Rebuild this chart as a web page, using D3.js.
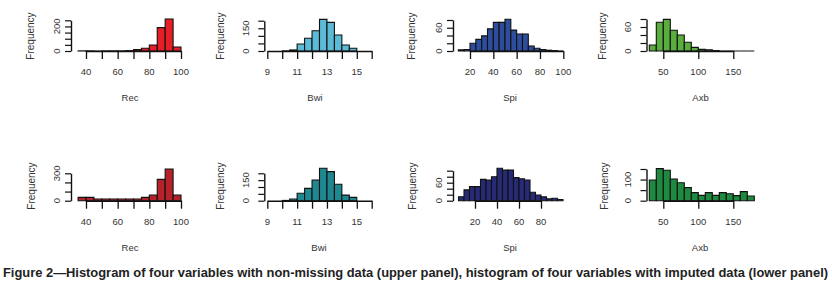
<!DOCTYPE html>
<html><head><meta charset="utf-8">
<script src="https://cdn.jsdelivr.net/npm/d3@7"></script>
<style>
html,body{margin:0;padding:0;background:#fff;}
svg{display:block;}
text{font-family:"Liberation Sans",Arial,sans-serif;fill:#333;}
</style></head>
<body>
<svg id="chart" width="832" height="295"></svg>
<script>
// ---------- data ----------
const recBreaks = [35,40,45,50,55,60,65,70,75,80,85,90,95,100];
const recTopCounts = [1,1,0,1,1,1,3,11,22,49,190,261,33];
const recBottomCounts = [36,36,18,18,18,18,18,18,36,62,234,347,62];
const recXTicks = [40,50,60,70,80,90,100];
const recXLabels = [40,60,80,100];
const recTopYTicks = [0,50,100,150,200,250];
const recTopYLabels = [0,200];
const recBottomYTicks = [0,100,200,300];
const recBottomYLabels = [0,300];

const bwiBreaks = [10,10.5,11,11.5,12,12.5,13,13.5,14,14.5,15];
const bwiTopCounts = [1,7,46,84,134,209,189,106,40,18];
const bwiBottomCounts = [2,12,54,90,151,237,212,120,41,24];
const bwiXTicks = [9,10,11,12,13,14,15,16];
const bwiXLabels = [9,11,13,15];
const bwiYTicks = [0,50,100,150,200];
const bwiYLabels = [0,150];

const spiTopBreaks = [10,15,20,25,30,35,40,45,50,55,60,65,70,75,80,85,90,95,100];
const spiTopCounts = [3,4,20,30,39,57,74,74,82,54,44,44,13,7,4,2,1,0];
const spiBottomBreaks = [5,10,15,20,25,30,35,40,45,50,55,60,65,70,75,80,85,90,95,100];
const spiBottomCounts = [13,36,47,47,71,69,80,108,102,102,77,73,69,28,19,13,6,8,4];
const spiTopXTicks = [20,40,60,80,100];
const spiTopXLabels = [20,40,60,80,100];
const spiBottomXTicks = [20,40,60,80];
const spiBottomXLabels = [20,40,60,80];
const spiTopYTicks = [0,20,40,60,80];
const spiBottomYTicks = [0,20,40,60,80,100];
const spiYLabels = [0,60];

const axbBreaks = [30,40,50,60,70,80,90,100,110,120,130,140,150,160,170,180];
const axbTopCounts = [15,72,79,52,40,22,9,4,3,1,0,0,0,0,0];
const axbBottomCounts = [98,152,144,103,85,62,38,25,38,25,38,33,24,43,22];
const axbXTicks = [50,100,150];
const axbXLabels = [50,100,150];
const axbTopYTicks = [0,20,40,60,80];
const axbTopYLabels = [0,60];
const axbBottomYTicks = [0,50,100,150];
const axbBottomYLabels = [0,100];

const caption = "Figure 2\u2014Histogram of four variables with non-missing data (upper panel), histogram of four variables with imputed data (lower panel)";

// ---------- layout ----------
const rows = [
  {base:51, xLabY:74.5, titleY:101, freqY:36},
  {base:200.7, xLabY:224.5, titleY:250.5, freqY:186}
];
const panels = [
  {row:0, title:"Rec", breaks:recBreaks, counts:recTopCounts, color:"#E61F27",
   xDom:[40,100], xRange:[86,181], yDom:[0,250], yTop:20.3,
   xTicks:recXTicks, xLabels:recXLabels, yTicks:recTopYTicks, yLabels:recTopYLabels,
   axisX:71, ylabX:57, freqX:30, titleX:130},
  {row:1, title:"Rec", breaks:recBreaks, counts:recBottomCounts, color:"#B5222A",
   xDom:[40,100], xRange:[86,181], yDom:[0,300], yTop:173.3,
   xTicks:recXTicks, xLabels:recXLabels, yTicks:recBottomYTicks, yLabels:recBottomYLabels,
   axisX:71, ylabX:57, freqX:31, titleX:130},
  {row:0, title:"Bwi", breaks:bwiBreaks, counts:bwiTopCounts, color:"#5BBAD5",
   xDom:[9,16], xRange:[267.3,371.7], yDom:[0,200], yTop:20.7,
   xTicks:bwiXTicks, xLabels:bwiXLabels, yTicks:bwiYTicks, yLabels:bwiYLabels,
   axisX:264.3, ylabX:245.5, freqX:220, titleX:315},
  {row:1, title:"Bwi", breaks:bwiBreaks, counts:bwiBottomCounts, color:"#1F8790",
   xDom:[9,16], xRange:[267.3,371.7], yDom:[0,200], yTop:173.3,
   xTicks:bwiXTicks, xLabels:bwiXLabels, yTicks:bwiYTicks, yLabels:bwiYLabels,
   axisX:264.3, ylabX:245.5, freqX:220, titleX:319},
  {row:0, title:"Spi", breaks:spiTopBreaks, counts:spiTopCounts, color:"#2E4D9C",
   xDom:[20,100], xRange:[470,563.3], yDom:[0,80], yTop:20,
   xTicks:spiTopXTicks, xLabels:spiTopXLabels, yTicks:spiTopYTicks, yLabels:spiYLabels,
   axisX:453, ylabX:438.3, freqX:411.5, titleX:510},
  {row:1, title:"Spi", breaks:spiBottomBreaks, counts:spiBottomCounts, color:"#272B76",
   xDom:[20,80], xRange:[475,541], yDom:[0,100], yTop:170.7,
   xTicks:spiBottomXTicks, xLabels:spiBottomXLabels, yTicks:spiBottomYTicks, yLabels:spiYLabels,
   axisX:453, ylabX:438.3, freqX:412, titleX:510},
  {row:0, title:"Axb", breaks:axbBreaks, counts:axbTopCounts, color:"#5AAE3D",
   xDom:[50,150], xRange:[663.3,733.3], yDom:[0,80], yTop:19,
   xTicks:axbXTicks, xLabels:axbXLabels, yTicks:axbTopYTicks, yLabels:axbTopYLabels,
   axisX:646.5, ylabX:627.5, freqX:602, titleX:700.5},
  {row:1, title:"Axb", breaks:axbBreaks, counts:axbBottomCounts, color:"#1E8A40",
   xDom:[50,150], xRange:[663.3,733.3], yDom:[0,150], yTop:169,
   xTicks:axbXTicks, xLabels:axbXLabels, yTicks:axbBottomYTicks, yLabels:axbBottomYLabels,
   axisX:646.5, ylabX:627.5, freqX:604, titleX:700}
];

const svg = d3.select("#chart");
const FS = 9.5;

panels.forEach(p => {
  const r = rows[p.row];
  const x = d3.scaleLinear().domain(p.xDom).range(p.xRange);
  const y = d3.scaleLinear().domain(p.yDom).range([r.base, p.yTop]);
  const g = svg.append("g");

  // bars
  const bins = p.counts.map((c,i) => ({x0:p.breaks[i], x1:p.breaks[i+1], c:c}));
  g.selectAll("path.bar").data(bins).enter().append("path")
    .attr("class","bar")
    .attr("d", d => `M${x(d.x0)},${y(0)}V${y(d.c)}H${x(d.x1)}V${y(0)}Z`)
    .attr("fill", p.color)
    .attr("stroke", "#111")
    .attr("stroke-width", 1.1);

  // x axis
  const xa = g.append("g").attr("transform", `translate(0,${r.base})`);
  xa.call(d3.axisBottom(x).tickValues(p.xTicks).tickSize(8).tickSizeOuter(0).tickFormat(() => ""));
  xa.select(".domain").attr("stroke","#111").attr("stroke-width",1.6);
  xa.selectAll(".tick line").attr("stroke","#111").attr("stroke-width",1.3);
  g.selectAll("text.xl").data(p.xLabels).enter().append("text")
    .attr("class","xl")
    .attr("x", d => x(d)).attr("y", r.xLabY)
    .attr("text-anchor","middle").attr("font-size",FS)
    .text(d => d);

  // y axis
  const ya = g.append("g").attr("transform", `translate(${p.axisX},0)`);
  ya.call(d3.axisLeft(y).tickValues(p.yTicks).tickSize(6).tickSizeOuter(0).tickFormat(() => ""));
  ya.select(".domain").attr("stroke","#111").attr("stroke-width",1.4);
  ya.selectAll(".tick line").attr("stroke","#111").attr("stroke-width",1.2);
  g.selectAll("text.yl").data(p.yLabels).enter().append("text")
    .attr("class","yl")
    .attr("transform", d => `translate(${p.ylabX},${y(d)}) rotate(-90)`)
    .attr("dy","0.35em")
    .attr("text-anchor","middle").attr("font-size",FS)
    .text(d => d);

  // titles
  g.append("text")
    .attr("x", p.titleX).attr("y", r.titleY)
    .attr("text-anchor","middle").attr("font-size",FS)
    .text(p.title);
  g.append("text")
    .attr("transform", `translate(${p.freqX},${r.freqY}) rotate(-90)`)
    .attr("dy","0.35em")
    .attr("text-anchor","middle").attr("font-size",10)
    .text("Frequency");
});

svg.append("text")
  .attr("x", 3).attr("y", 276.5)
  .attr("font-family", "'Liberation Sans Narrow','DejaVu Sans Condensed',Arial,sans-serif")
  .attr("font-weight","bold").attr("font-size",12)
  .style("fill","#222")
  .attr("textLength", 825).attr("lengthAdjust","spacingAndGlyphs")
  .text(caption);
</script>
</body></html>
